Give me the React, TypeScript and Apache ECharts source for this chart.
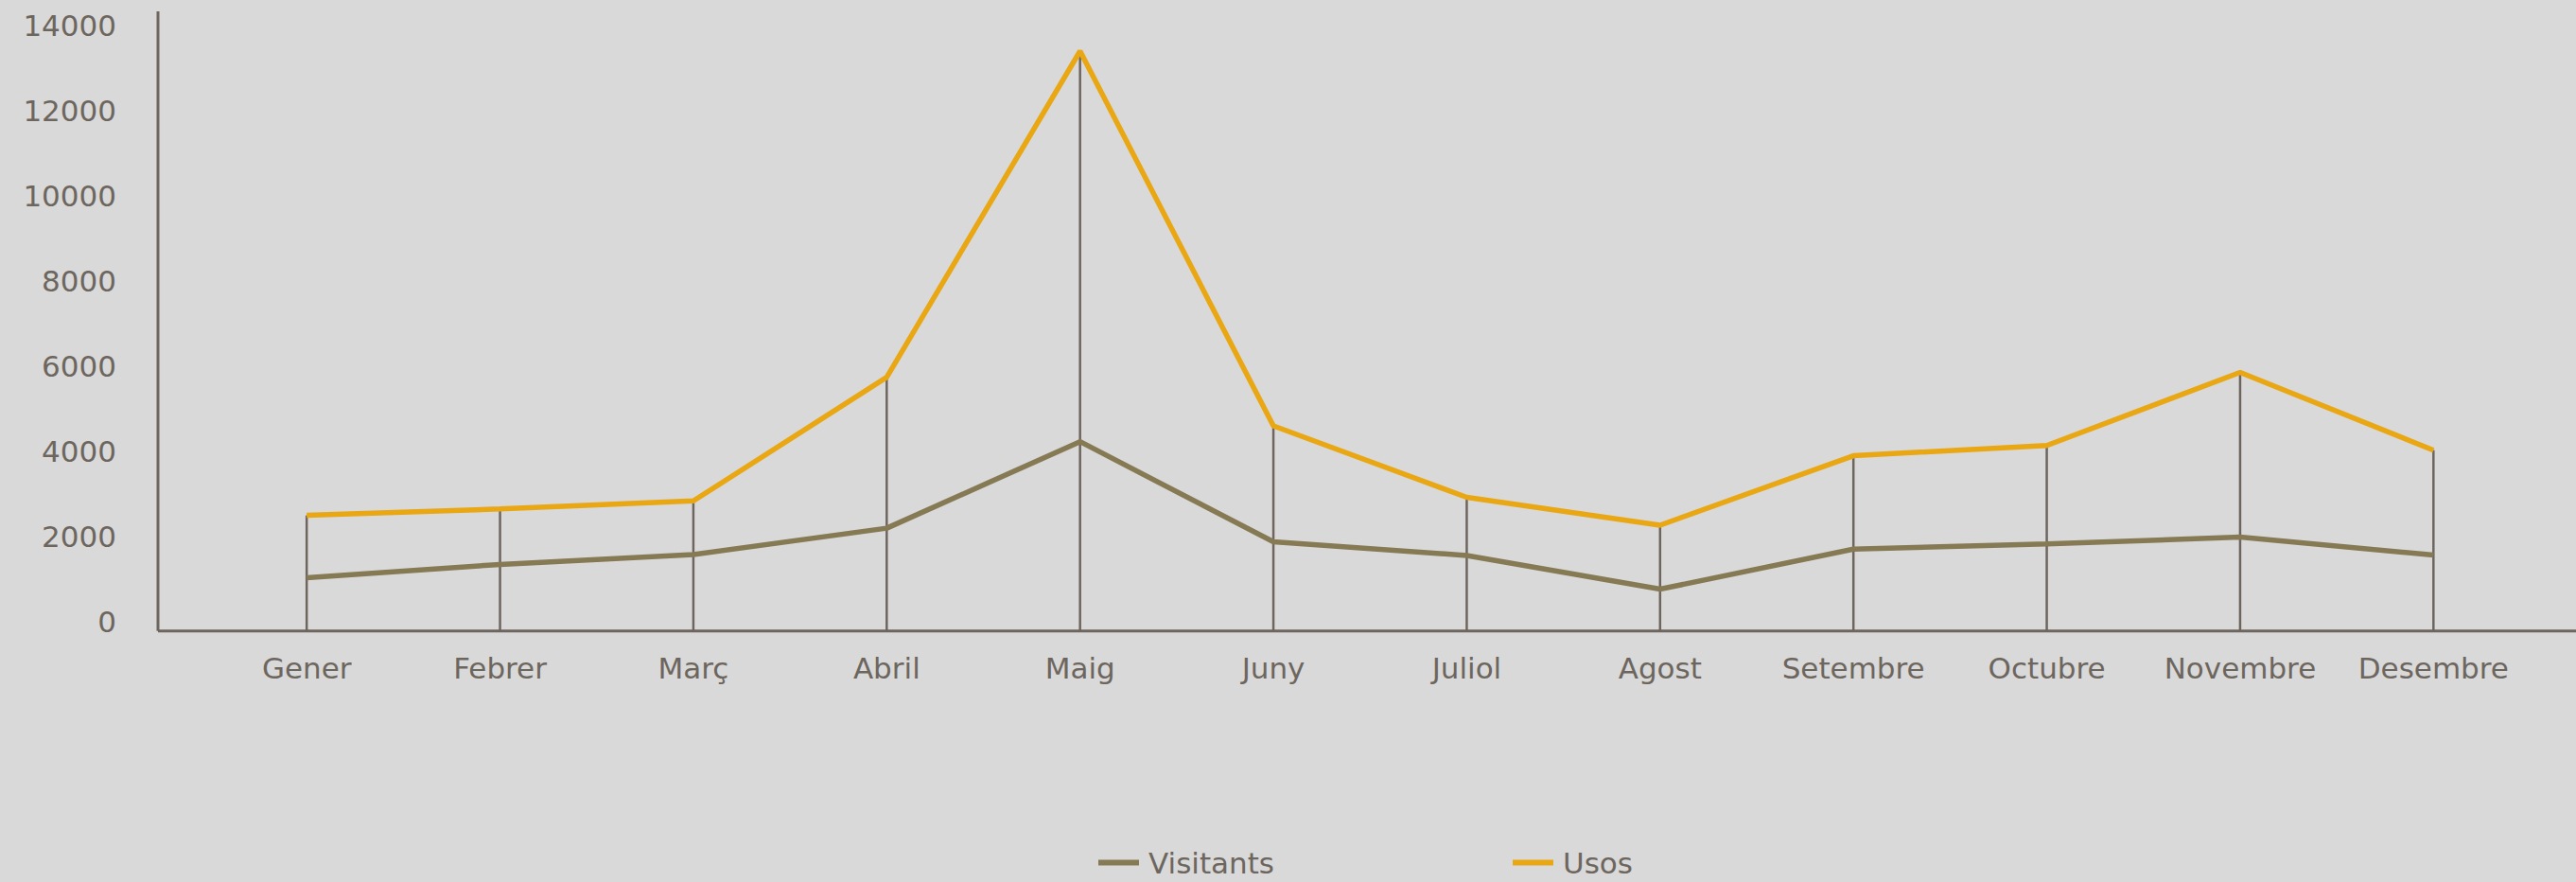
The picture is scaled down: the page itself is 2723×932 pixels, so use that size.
import React, { useEffect, useRef } from "react";
import * as echarts from "echarts";

const categories = ["Gener", "Febrer", "Març", "Abril", "Maig", "Juny", "Juliol", "Agost", "Setembre", "Octubre", "Novembre", "Desembre"];
const visitants = [1250, 1560, 1790, 2410, 4440, 2090, 1770, 980, 1920, 2040, 2200, 1780];
const usos = [2710, 2860, 3050, 5950, 13600, 4810, 3135, 2480, 4110, 4350, 6065, 4240];
const yMin = 0;
const yMax = 14000;
const yInterval = 2000;

const TEXT = "#6d665e";
const AXIS = "#6e665e";
const FONT = "DejaVu Sans";

export default function App() {
  const ref = useRef<HTMLDivElement>(null);
  useEffect(() => {
    document.body.style.margin = "0";
    if (!ref.current) return;
    const chart = echarts.init(ref.current, null, { renderer: "svg" });
    chart.setOption({
      animation: false,
      backgroundColor: "#d9d9d9",
      grid: { left: 222, right: 48.5, top: 36, bottom: 265.3 },
      legend: {
        data: ["Visitants", "Usos"],
        left: 1161,
        top: 896,
        padding: 0,
        icon: "rect",
        itemWidth: 43,
        itemHeight: 6,
        itemGap: 252,
        textStyle: { color: TEXT, fontSize: 31, fontFamily: FONT, padding: [0, 0, 0, 5] },
      },
      xAxis: {
        type: "category",
        data: categories,
        boundaryGap: true,
        axisLine: { show: false },
        axisTick: { show: false },
        axisLabel: { interval: 0, margin: 24, color: TEXT, fontSize: 31, fontFamily: FONT },
      },
      yAxis: {
        type: "value",
        min: yMin,
        max: yMax,
        interval: yInterval,
        splitLine: { show: false },
        axisLine: { show: false },
        axisTick: { show: false },
        axisLabel: {
          margin: 99,
          color: TEXT,
          fontSize: 31,
          fontFamily: FONT,
          verticalAlign: "bottom",
          lineHeight: 19,
          formatter: (v: number) => String(v),
        },
      },
      graphic: [
        {
          type: "line",
          z: 10,
          shape: { x1: 167, y1: 12, x2: 167, y2: 666.7 },
          style: { stroke: AXIS, lineWidth: 3 },
        },
        {
          type: "line",
          z: 10,
          shape: { x1: 167, y1: 666.7, x2: 2723, y2: 666.7 },
          style: { stroke: AXIS, lineWidth: 3 },
        },
      ],
      series: [
        {
          name: "drop",
          type: "bar",
          data: usos,
          barWidth: 2.5,
          itemStyle: { color: AXIS },
          z: 1,
          silent: true,
        },
        {
          name: "Visitants",
          type: "line",
          data: visitants,
          color: "#867a54",
          symbol: "none",
          lineStyle: { width: 5.5, color: "#867a54" },
          itemStyle: { color: "#867a54" },
          z: 3,
        },
        {
          name: "Usos",
          type: "line",
          data: usos,
          color: "#e9a713",
          symbol: "none",
          lineStyle: { width: 5.5, color: "#e9a713" },
          itemStyle: { color: "#e9a713" },
          z: 4,
        },
      ],
    });
    return () => chart.dispose();
  }, []);
  return <div ref={ref} style={{ width: 2723, height: 932, background: "#d9d9d9" }} />;
}
